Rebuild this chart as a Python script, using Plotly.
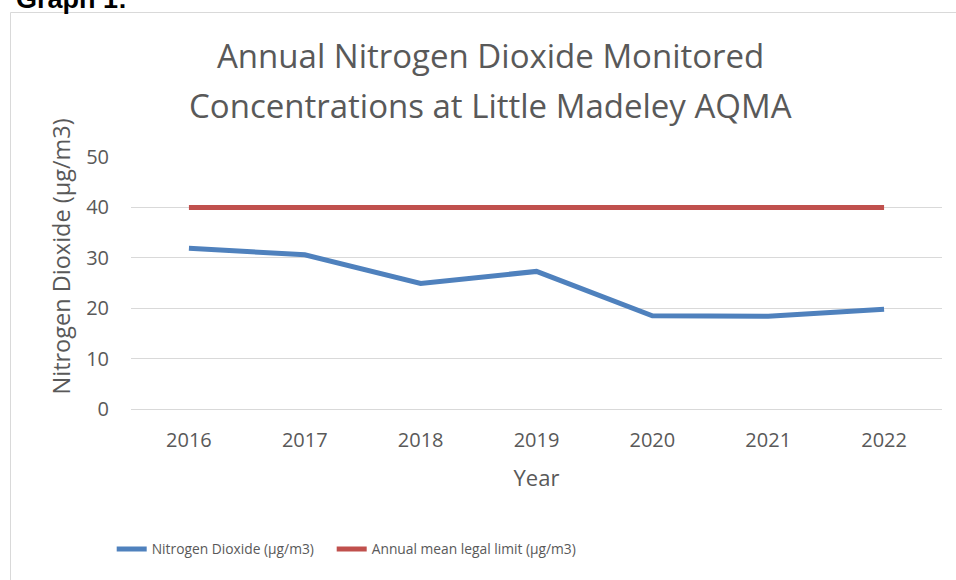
import plotly.graph_objects as go

years = ["2016", "2017", "2018", "2019", "2020", "2021", "2022"]
no2_values = [31.9, 30.6, 24.9, 27.3, 18.5, 18.4, 19.8]
legal_limit = [40, 40, 40, 40, 40, 40, 40]
y_ticks = [0, 10, 20, 30, 40, 50]

W, H = 956, 580
L, R, T, B = 131, 14, 157, 171
PW, PH = W - L - R, H - T - B

def px(x):
    return (x - L) / PW

def py(y):
    return (H - B - y) / PH

TEXT = "#595959"
GRID = "#D9D9D9"
LEGEND_FONT = dict(size=13.8, color=TEXT, family="Open Sans, sans-serif")

fig = go.Figure()
fig.add_trace(go.Scatter(
    x=years, y=no2_values, mode="lines", name="Nitrogen Dioxide (µg/m3)",
    line=dict(color="#4F81BD", width=5), legend="legend",
))
fig.add_trace(go.Scatter(
    x=years, y=legal_limit, mode="lines", name="Annual mean legal limit (µg/m3)",
    line=dict(color="#C0504D", width=5), legend="legend2",
))

fig.update_layout(
    width=W, height=H,
    margin=dict(l=L, r=R, t=T, b=B),
    paper_bgcolor="white", plot_bgcolor="white",
    font=dict(family="Open Sans, Arial, sans-serif", color=TEXT, size=20),
    xaxis=dict(
        type="category", range=[-0.5, 6.5],
        showgrid=False, showline=False, zeroline=False, ticks="",
        tickfont=dict(size=20, color=TEXT),
        ticklabelstandoff=17,
        title=dict(text="Year", font=dict(size=22, color=TEXT), standoff=18),
    ),
    yaxis=dict(
        range=[0, 50], tickvals=y_ticks,
        showgrid=True, gridcolor=GRID, gridwidth=1,
        zeroline=True, zerolinecolor=GRID, zerolinewidth=1,
        showline=False, ticks="",
        tickfont=dict(size=20, color=TEXT),
        ticklabelstandoff=21,
    ),
    legend=dict(
        orientation="h", x=px(111.7), y=py(549), xanchor="left", yanchor="middle",
        font=LEGEND_FONT, bgcolor="rgba(0,0,0,0)",
    ),
    legend2=dict(
        orientation="h", x=px(331.7), y=py(549), xanchor="left", yanchor="middle",
        font=LEGEND_FONT, bgcolor="rgba(0,0,0,0)",
    ),
    showlegend=True,
    shapes=[dict(
        type="rect", xref="paper", yref="paper",
        x0=px(10.5), x1=px(962), y0=py(12.5), y1=py(600),
        line=dict(color=GRID, width=1), fillcolor="rgba(0,0,0,0)", layer="below",
    )],
    annotations=[
        dict(
            text="<b>Graph 1:</b>", xref="paper", yref="paper",
            x=px(14), y=py(16), xanchor="left", yanchor="bottom",
            showarrow=False,
            font=dict(size=27, color="black", family="Liberation Sans, Arial, sans-serif"),
        ),
        dict(
            text="Annual Nitrogen Dioxide Monitored", xref="paper", yref="paper",
            x=px(490), y=py(55), xanchor="center", yanchor="middle", showarrow=False,
            font=dict(size=33, color=TEXT, family="Open Sans, sans-serif"),
        ),
        dict(
            text="Concentrations at Little Madeley AQMA", xref="paper", yref="paper",
            x=px(490), y=py(105), xanchor="center", yanchor="middle", showarrow=False,
            font=dict(size=33, color=TEXT, family="Open Sans, sans-serif"),
        ),
        dict(
            text="Nitrogen Dioxide (µg/m3)", xref="paper", yref="paper",
            x=px(60), y=py(256.5), xanchor="center", yanchor="middle", showarrow=False,
            textangle=-90,
            font=dict(size=23.5, color=TEXT, family="Open Sans, sans-serif"),
        ),
    ],
)

fig.write_html(
    "out.html",
    config={"displayModeBar": False},
    post_script="document.body.style.margin='0';document.body.style.overflow='hidden';",
)
